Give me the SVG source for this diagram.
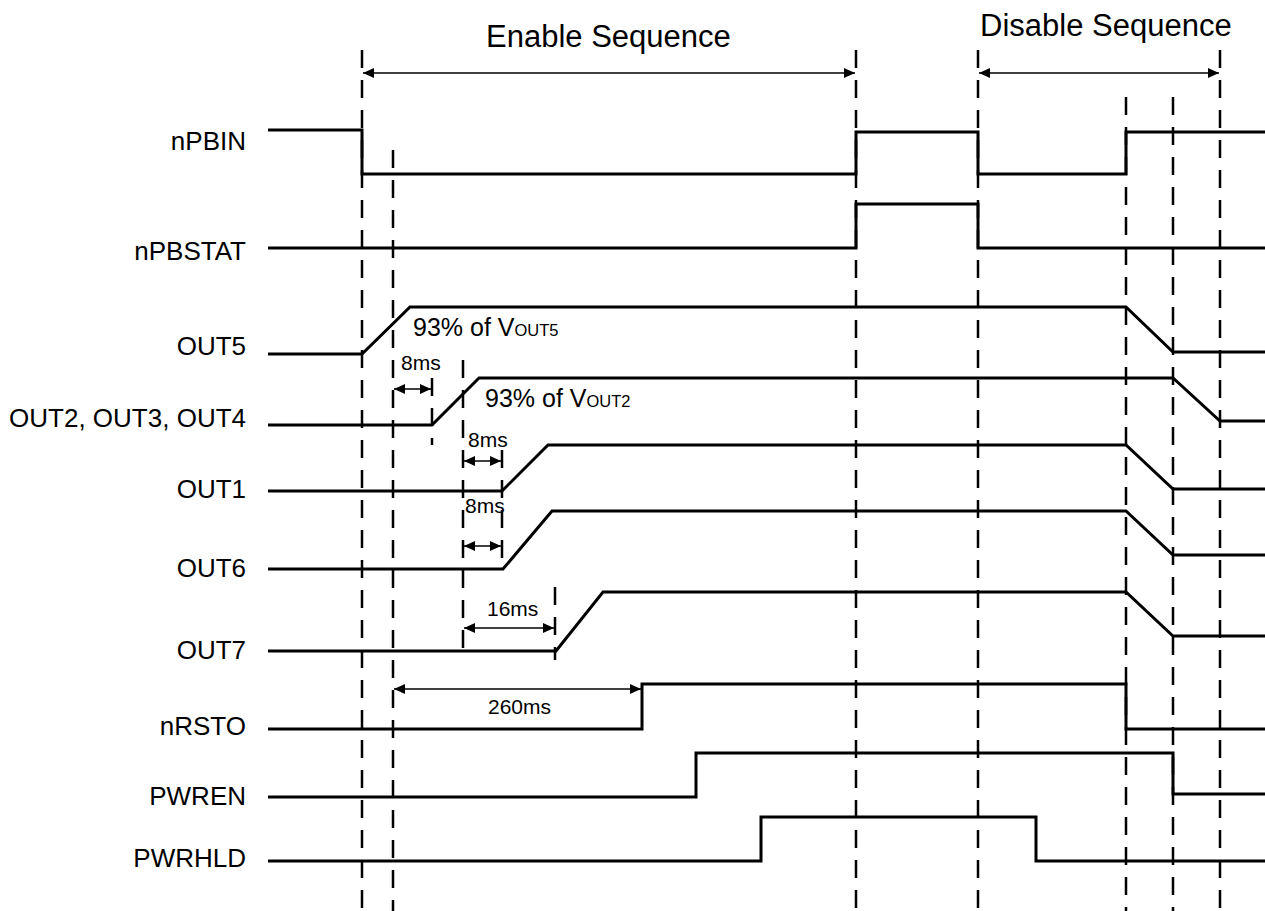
<svg xmlns="http://www.w3.org/2000/svg" width="1265" height="911" viewBox="0 0 1265 911">
<style>
.sig{fill:none;stroke:#000;stroke-width:3;stroke-linejoin:miter}
.guide{stroke:#000;stroke-width:2.5;stroke-dasharray:18 12;fill:none}
.dim{stroke:#000;stroke-width:1.6;fill:none;marker-start:url(#ah);marker-end:url(#ah)}
.lbl{font-family:"Liberation Sans",Arial,sans-serif;font-size:26px;fill:#000;text-anchor:end}
.ttl{font-family:"Liberation Sans",Arial,sans-serif;font-size:31px;fill:#000}
.note{font-family:"Liberation Sans",Arial,sans-serif;font-size:25px;fill:#000}
.sub{font-size:16.5px}
.ms{font-family:"Liberation Sans",Arial,sans-serif;font-size:21px;fill:#000}
</style>
<defs>
<marker id="ah" markerUnits="userSpaceOnUse" markerWidth="12" markerHeight="10" refX="11" refY="5" orient="auto-start-reverse">
<path d="M0,0 L11,5 L0,10 z" fill="#000"/>
</marker>
</defs>
<rect width="1265" height="911" fill="#fff"/>
<g id="guides">
<line class="guide" x1="362" y1="50" x2="362" y2="911"/>
<line class="guide" x1="393" y1="150" x2="393" y2="911"/>
<line class="guide" x1="856" y1="50" x2="856" y2="911"/>
<line class="guide" x1="978" y1="50" x2="978" y2="911"/>
<line class="guide" x1="1126" y1="97" x2="1126" y2="911"/>
<line class="guide" x1="1173" y1="97" x2="1173" y2="911"/>
<line class="guide" x1="1220" y1="50" x2="1220" y2="911"/>
<line class="guide" x1="432" y1="378" x2="432" y2="445"/>
<line class="guide" x1="463" y1="360" x2="463" y2="652"/>
<line class="guide" x1="502" y1="450" x2="502" y2="570"/>
<line class="guide" x1="555" y1="587" x2="555" y2="660"/>
</g>
<g id="titles">
<text class="ttl" x="486" y="47">Enable Sequence</text>
<text class="ttl" x="980" y="36">Disable Sequence</text>
</g>
<g id="nPBIN"><text class="lbl" x="246" y="150">nPBIN</text><polyline class="sig" points="268,130 362,130 362,174 856,174 856,132 978,132 978,174 1126,174 1126,132 1265,132"/></g>
<g id="nPBSTAT"><text class="lbl" x="246" y="260">nPBSTAT</text><polyline class="sig" points="268,248 856,248 856,204 978,204 978,248 1265,248"/></g>
<g id="OUT5"><text class="lbl" x="246" y="355">OUT5</text><polyline class="sig" points="268,354 362,354 410,307 1126,307 1173,352 1265,352"/>
<text class="note" x="413" y="336">93% of V<tspan class="sub">OUT5</tspan></text></g>
<g id="OUT234"><text class="lbl" x="246" y="427">OUT2, OUT3, OUT4</text><polyline class="sig" points="268,425 432,425 479,378 1173,378 1220,421 1265,421"/>
<text class="note" x="485" y="407">93% of V<tspan class="sub">OUT2</tspan></text></g>
<g id="OUT1"><text class="lbl" x="246" y="498">OUT1</text><polyline class="sig" points="268,491 502,491 548,445 1126,445 1173,489 1265,489"/></g>
<g id="OUT6"><text class="lbl" x="246" y="577">OUT6</text><polyline class="sig" points="268,569 503,569 552,511 1126,511 1173,555 1265,555"/></g>
<g id="OUT7"><text class="lbl" x="246" y="659">OUT7</text><polyline class="sig" points="268,651 556,651 603,592 1126,592 1173,636 1265,636"/></g>
<g id="nRSTO"><text class="lbl" x="246" y="735">nRSTO</text><polyline class="sig" points="268,729 642,729 642,684 1126,684 1126,729 1265,729"/></g>
<g id="PWREN"><text class="lbl" x="246" y="805">PWREN</text><polyline class="sig" points="268,797 696,797 696,753 1173,753 1173,794 1265,794"/></g>
<g id="PWRHLD"><text class="lbl" x="246" y="867">PWRHLD</text><polyline class="sig" points="268,861 761,861 761,817 1036,817 1036,861 1265,861"/></g>
<g id="connectors">
<line class="dim" x1="363" y1="73" x2="855" y2="73"/>
<line class="dim" x1="979" y1="73" x2="1219" y2="73"/>
<line class="dim" x1="394" y1="389" x2="431" y2="389"/>
<line class="dim" x1="464" y1="461" x2="501" y2="461"/>
<line class="dim" x1="464" y1="546" x2="501" y2="546"/>
<line class="dim" x1="464" y1="628" x2="554" y2="628"/>
<line class="dim" x1="394" y1="689" x2="641" y2="689"/>
<text class="ms" x="401" y="370">8ms</text>
<text class="ms" x="468" y="447">8ms</text>
<text class="ms" x="465" y="513">8ms</text>
<text class="ms" x="487" y="616">16ms</text>
<text class="ms" x="488" y="714">260ms</text>
</g>
</svg>
